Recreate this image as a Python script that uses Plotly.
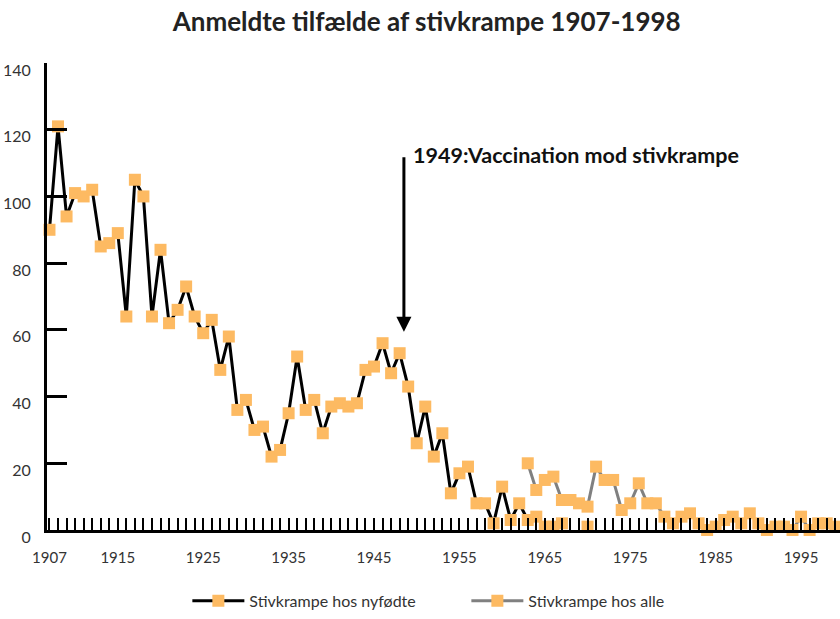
import plotly.graph_objects as go

# ---- data ----
years_nyfodte = list(range(1907, 1971))
cases_nyfodte = [
    90, 121, 94, 101, 100, 102, 85, 86, 89, 64,      # 1907-1916
    105, 100, 64, 84, 62, 66, 73, 64, 59, 63,         # 1917-1926
    48, 58, 36, 39, 30, 31, 22, 24, 35, 52,           # 1927-1936
    36, 39, 29, 37, 38, 37, 38, 48, 49, 56,           # 1937-1946
    47, 53, 43, 26, 37, 22, 29, 11, 17, 19,           # 1947-1956
    8, 8, 2, 13, 3, 8, 3, 4, 1, 1,                    # 1957-1966
    2, None, None, 1,                                 # 1967-1970
]

years_alle = list(range(1963, 2000))
cases_alle = [
    20, 12, 15, 16, 9, 9, 8, 7, 19, 15,               # 1963-1972
    15, 6, 8, 14, 8, 8, 4, 2, 4, 5,                   # 1973-1982
    2, 0, 1, 3, 4, 2, 5, 2, 0, 1,                     # 1983-1992
    1, 0, 4, 0, 2, 2, 1,                              # 1993-1999
]

label_years = [1907, 1915, 1925, 1935, 1945, 1955, 1965, 1975, 1985, 1995]
tick_years = list(range(1907, 2000))
tick_text = [str(y) if y in label_years else "" for y in tick_years]

title_text = "Anmeldte tilfælde af stivkrampe 1907-1998"
note_text = "1949:Vaccination mod stivkrampe"
vaccine_year = 1948.5
name_nyfodte = "Stivkrampe hos nyfødte"
name_alle = "Stivkrampe hos alle"

FONT = "Lato, 'Open Sans', sans-serif"
ORANGE = "#FDBA62"

fig = go.Figure()
fig.add_trace(go.Scatter(
    x=years_nyfodte, y=cases_nyfodte, name=name_nyfodte, mode="lines+markers",
    line=dict(color="black", width=3),
    marker=dict(symbol="square", size=12, color=ORANGE),
    cliponaxis=False, connectgaps=False,
))
fig.add_trace(go.Scatter(
    x=years_alle, y=cases_alle, name=name_alle, mode="lines+markers",
    line=dict(color="#808080", width=3),
    marker=dict(symbol="square", size=12, color=ORANGE),
    cliponaxis=False,
))

fig.update_layout(
    width=840, height=619,
    margin=dict(l=47, r=0, t=63, b=89),
    plot_bgcolor="white", paper_bgcolor="white",
    font=dict(family=FONT, color="#333333", size=15),
    title=dict(text="<b>" + title_text + "</b>", x=0.508, xanchor="center",
               y=1 - 22 / 619, yanchor="middle", yref="container",
               font=dict(size=26, color="#222222", family=FONT)),
    showlegend=True,
    legend=dict(orientation="h", x=0.177, xanchor="left", y=-0.188, yanchor="bottom",
                font=dict(size=16, color="#333333"), entrywidth=212,
                entrywidthmode="pixels", itemwidth=52, bgcolor="rgba(0,0,0,0)"),
)

fig.update_xaxes(
    range=[1906.71, 1999.56], showgrid=False, zeroline=False,
    showline=True, linecolor="black", linewidth=3,
    tickmode="array", tickvals=tick_years, ticktext=tick_text,
    ticks="inside", ticklen=12, tickwidth=2, tickcolor="black",
    ticklabelstandoff=12, tickfont=dict(size=15, color="#333333"),
)
fig.update_yaxes(
    range=[0, 140], showgrid=False, zeroline=False,
    showline=True, linecolor="black", linewidth=3,
    tickmode="linear", tick0=0, dtick=20,
    ticks="inside", ticklen=20, tickwidth=3, tickcolor="black",
    ticklabelstandoff=10, ticklabelshift=7,
    tickfont=dict(size=16, color="#333333"),
)

fig.add_annotation(
    x=vaccine_year, y=59.4, xref="x", yref="y", text="",
    showarrow=True, ax=0, ay=-176, axref="pixel", ayref="pixel",
    arrowhead=2, arrowsize=1, arrowwidth=3, arrowcolor="black", standoff=0,
)
fig.add_annotation(
    x=1949.33, y=112.4, xref="x", yref="y", text="<b>" + note_text + "</b>",
    showarrow=False, xanchor="left", yanchor="middle",
    font=dict(size=21.5, color="#111111", family=FONT),
)

fig.write_html("out.html", config={"displayModeBar": False},
               post_script="document.body.style.margin='0';")
